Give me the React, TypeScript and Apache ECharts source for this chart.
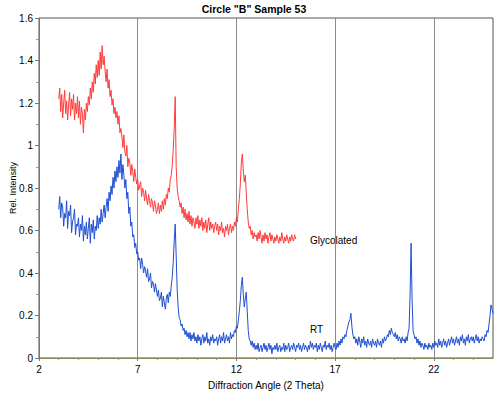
import React, { useEffect, useRef } from "react";
import * as echarts from "echarts";

const TITLE = 'Circle "B" Sample 53';
const X_NAME = "Diffraction Angle (2 Theta)";
const Y_NAME = "Rel. Intensity";
const X_TICKS = [2, 7, 12, 17, 22];

// RT (blue): sampled from 2θ = 3.00 in 0.05 steps
const RT_START = 3.0;
const RT_STEP = 0.05;
const rtValues = [
  0.70, 0.76, 0.66, 0.73, 0.71, 0.62, 0.68, 0.66, 0.74, 0.61, 0.69, 0.67, 0.72, 0.59, 0.64, 0.66, 0.70, 0.58, 0.63, 0.62,
  0.66, 0.57, 0.63, 0.60, 0.67, 0.55, 0.62, 0.58, 0.64, 0.56, 0.61, 0.66, 0.54, 0.63, 0.59, 0.65, 0.56, 0.62, 0.60, 0.67,
  0.61, 0.66, 0.63, 0.70, 0.64, 0.68, 0.72, 0.66, 0.71, 0.75, 0.69, 0.78, 0.74, 0.81, 0.77, 0.85, 0.80, 0.88, 0.83, 0.90,
  0.85, 0.93, 0.87, 0.96, 0.84, 0.91, 0.86, 0.80, 0.84, 0.75, 0.78, 0.68, 0.71, 0.62, 0.64, 0.57, 0.58, 0.52, 0.54, 0.49,
  0.50, 0.46, 0.47, 0.42, 0.47, 0.44, 0.40, 0.43, 0.41, 0.38, 0.42, 0.36, 0.37, 0.40, 0.33, 0.36, 0.35, 0.31, 0.35, 0.32,
  0.29, 0.32, 0.27, 0.28, 0.31, 0.24, 0.29, 0.26, 0.23, 0.28, 0.30, 0.26, 0.31, 0.29, 0.34, 0.38, 0.45, 0.55, 0.63, 0.48,
  0.32, 0.24, 0.19, 0.18, 0.15, 0.16, 0.13, 0.14, 0.11, 0.13, 0.10, 0.12, 0.09, 0.12, 0.08, 0.11, 0.09, 0.12, 0.08, 0.10,
  0.07, 0.11, 0.08, 0.10, 0.06, 0.09, 0.11, 0.07, 0.10, 0.08, 0.12, 0.07, 0.09, 0.06, 0.10, 0.08, 0.11, 0.07, 0.09, 0.08,
  0.10, 0.06, 0.09, 0.11, 0.07, 0.10, 0.08, 0.12, 0.07, 0.09, 0.11, 0.08, 0.10, 0.07, 0.12, 0.09, 0.11, 0.10, 0.13, 0.12,
  0.15, 0.14, 0.18, 0.22, 0.27, 0.34, 0.38, 0.30, 0.24, 0.28, 0.31, 0.22, 0.13, 0.09, 0.08, 0.06, 0.08, 0.05, 0.07, 0.04,
  0.06, 0.04, 0.07, 0.03, 0.05, 0.06, 0.03, 0.05, 0.07, 0.04, 0.06, 0.03, 0.05, 0.07, 0.04, 0.06, 0.02, 0.05, 0.04, 0.06,
  0.04, 0.07, 0.03, 0.05, 0.06, 0.03, 0.05, 0.04, 0.07, 0.03, 0.06, 0.04, 0.05, 0.07, 0.03, 0.05, 0.06, 0.04, 0.07, 0.05,
  0.03, 0.06, 0.05, 0.07, 0.04, 0.06, 0.03, 0.05, 0.07, 0.04, 0.06, 0.05, 0.03, 0.06, 0.04, 0.08, 0.05, 0.07, 0.04, 0.06,
  0.05, 0.07, 0.03, 0.06, 0.04, 0.07, 0.05, 0.03, 0.06, 0.05, 0.08, 0.04, 0.06, 0.05, 0.07, 0.04, 0.06, 0.03, 0.05, 0.07,
  0.05, 0.04, 0.07, 0.05, 0.08, 0.06, 0.09, 0.07, 0.10, 0.09, 0.11, 0.10, 0.13, 0.15, 0.17, 0.18, 0.21, 0.15, 0.11, 0.09,
  0.10, 0.07, 0.09, 0.06, 0.10, 0.08, 0.05, 0.09, 0.07, 0.10, 0.06, 0.08, 0.05, 0.09, 0.07, 0.06, 0.08, 0.05, 0.09, 0.07,
  0.06, 0.08, 0.05, 0.09, 0.07, 0.06, 0.08, 0.05, 0.09, 0.07, 0.10, 0.08, 0.09, 0.11, 0.10, 0.13, 0.11, 0.14, 0.12, 0.11,
  0.10, 0.12, 0.09, 0.11, 0.08, 0.10, 0.09, 0.07, 0.10, 0.08, 0.09, 0.07, 0.10, 0.08, 0.12, 0.14, 0.30, 0.54, 0.28, 0.13,
  0.11, 0.09, 0.10, 0.07, 0.09, 0.06, 0.08, 0.05, 0.07, 0.06, 0.04, 0.07, 0.05, 0.06, 0.04, 0.07, 0.05, 0.06, 0.04, 0.07,
  0.05, 0.08, 0.06, 0.07, 0.05, 0.09, 0.06, 0.08, 0.05, 0.07, 0.09, 0.06, 0.08, 0.05, 0.07, 0.09, 0.06, 0.08, 0.10, 0.07,
  0.09, 0.06, 0.08, 0.10, 0.07, 0.09, 0.06, 0.10, 0.08, 0.11, 0.07, 0.09, 0.06, 0.10, 0.08, 0.11, 0.07, 0.09, 0.10, 0.08,
  0.10, 0.07, 0.09, 0.11, 0.08, 0.10, 0.07, 0.09, 0.08, 0.10, 0.09, 0.08, 0.11, 0.10, 0.13, 0.12, 0.16, 0.20, 0.25, 0.23,
  0.21,
];

// Glycolated (red): sampled from 2θ = 3.00 in 0.05 steps
const GLY_START = 3.0;
const GLY_STEP = 0.05;
const glyValues = [
  1.22, 1.27, 1.16, 1.24, 1.13, 1.20, 1.26, 1.15, 1.21, 1.12, 1.19, 1.25, 1.14, 1.22, 1.17, 1.24, 1.12, 1.20, 1.15, 1.23,
  1.13, 1.21, 1.10, 1.18, 1.15, 1.06, 1.17, 1.12, 1.20, 1.16, 1.23, 1.19, 1.27, 1.22, 1.30, 1.25, 1.34, 1.29, 1.38, 1.32,
  1.40, 1.33, 1.44, 1.36, 1.47, 1.38, 1.42, 1.35, 1.30, 1.36, 1.27, 1.31, 1.23, 1.26, 1.19, 1.22, 1.15, 1.18, 1.13, 1.16,
  1.10, 1.14, 1.06, 1.08, 1.04, 0.99, 1.05, 0.97, 0.95, 1.00, 0.90, 0.94, 0.92, 0.86, 0.91, 0.88, 0.83, 0.89, 0.85, 0.82,
  0.84, 0.79, 0.81, 0.83, 0.76, 0.80, 0.78, 0.74, 0.79, 0.75, 0.72, 0.77, 0.74, 0.71, 0.75, 0.73, 0.69, 0.74, 0.72, 0.68,
  0.70, 0.73, 0.68, 0.72, 0.69, 0.74, 0.70, 0.75, 0.72, 0.77, 0.75, 0.80, 0.78, 0.84, 0.86, 0.91, 0.98, 1.08, 1.23, 0.90,
  0.80, 0.76, 0.74, 0.71, 0.73, 0.68, 0.71, 0.66, 0.70, 0.65, 0.68, 0.64, 0.69, 0.63, 0.67, 0.62, 0.66, 0.64, 0.61, 0.66,
  0.63, 0.67, 0.61, 0.65, 0.62, 0.66, 0.60, 0.64, 0.61, 0.65, 0.59, 0.63, 0.66, 0.60, 0.64, 0.61, 0.63, 0.59, 0.62, 0.64,
  0.60, 0.63, 0.58, 0.62, 0.60, 0.64, 0.59, 0.61, 0.57, 0.62, 0.60, 0.63, 0.58, 0.61, 0.63, 0.59, 0.62, 0.60, 0.64, 0.62,
  0.66, 0.64, 0.70, 0.75, 0.82, 0.92, 0.96, 0.88, 0.83, 0.86, 0.78, 0.70, 0.64, 0.61, 0.62, 0.58, 0.60, 0.56, 0.59, 0.57,
  0.58, 0.55, 0.59, 0.56, 0.60, 0.57, 0.54, 0.58, 0.55, 0.59, 0.56, 0.58, 0.54, 0.57, 0.59, 0.55, 0.58, 0.56, 0.54, 0.57,
  0.55, 0.58, 0.56, 0.54, 0.57, 0.55, 0.59, 0.56, 0.54, 0.57, 0.55, 0.58, 0.56, 0.54, 0.57, 0.55, 0.58, 0.56, 0.55, 0.58,
  0.56,
];

const toPairs = (start: number, step: number, vals: number[]) =>
  vals.map((v, i) => [Math.round((start + i * step) * 1000) / 1000, v]);

const FONT = "Liberation Sans, Arial, sans-serif";

export default function App() {
  const ref = useRef<HTMLDivElement>(null);
  useEffect(() => {
    if (!ref.current) return;
    const chart = echarts.init(ref.current, undefined, { renderer: "svg" });
    chart.setOption({
      animation: false,
      backgroundColor: "#fff",
      grid: {
        left: 39,
        right: 7,
        top: 18,
        bottom: 38,
        outerBoundsMode: "none",
        containLabel: false,
        show: true,
        borderColor: "#555",
        borderWidth: 1,
        backgroundColor: "transparent",
      },
      xAxis: {
        type: "value",
        min: 2,
        max: 25,
        interval: 5,
        name: X_NAME,
        nameLocation: "middle",
        nameGap: 22,
        nameTextStyle: { fontFamily: FONT, fontSize: 10, color: "#000" },
        axisLine: { show: true, onZero: false, lineStyle: { color: "#8a8a5a", width: 1 } },
        axisTick: { show: true, length: 3, customValues: X_TICKS, lineStyle: { color: "#777" } },
        minorTick: { show: true, splitNumber: 5, length: 2, lineStyle: { color: "#999" } },
        axisLabel: {
          customValues: X_TICKS,
          fontFamily: FONT,
          fontSize: 10,
          color: "#000",
          margin: 6,
        },
        splitLine: { show: true, lineStyle: { color: "#8c8c8c", width: 1 } },
      },
      yAxis: {
        type: "value",
        min: 0,
        max: 1.6,
        interval: 0.2,
        axisLine: { show: true, lineStyle: { color: "#777", width: 1 } },
        axisTick: { show: true, length: 4, lineStyle: { color: "#777" } },
        minorTick: { show: true, splitNumber: 2, length: 3, lineStyle: { color: "#999" } },
        axisLabel: { fontFamily: FONT, fontSize: 10, color: "#000", margin: 6 },
        splitLine: { show: false },
      },
      series: [
        {
          name: "Glycolated",
          type: "line",
          data: toPairs(GLY_START, GLY_STEP, glyValues),
          showSymbol: false,
          symbol: "none",
          lineStyle: { color: "#ff3b3b", width: 1 },
          z: 3,
        },
        {
          name: "RT",
          type: "line",
          data: toPairs(RT_START, RT_STEP, rtValues),
          showSymbol: false,
          symbol: "none",
          lineStyle: { color: "#1f4fd0", width: 1 },
          z: 3,
        },
      ],
      graphic: [
        {
          type: "text",
          x: 254,
          y: 9,
          style: {
            text: TITLE,
            fontFamily: FONT,
            fontSize: 10.5,
            fontWeight: "bold",
            fill: "#000",
            align: "center",
            verticalAlign: "middle",
          },
        },
        {
          type: "text",
          x: 13,
          y: 188,
          rotation: Math.PI / 2,
          style: {
            text: Y_NAME,
            fontFamily: FONT,
            fontSize: 9,
            fill: "#000",
            align: "center",
            verticalAlign: "middle",
          },
        },
        {
          type: "text",
          left: 310,
          top: 235,
          style: { text: "Glycolated", fontFamily: FONT, fontSize: 10, fill: "#000" },
        },
        {
          type: "text",
          left: 310,
          top: 324,
          style: { text: "RT", fontFamily: FONT, fontSize: 10, fill: "#000" },
        },
      ],
    });
    return () => chart.dispose();
  }, []);
  return <div ref={ref} style={{ width: 500, height: 396, position: "absolute", left: 0, top: 0 }} />;
}
